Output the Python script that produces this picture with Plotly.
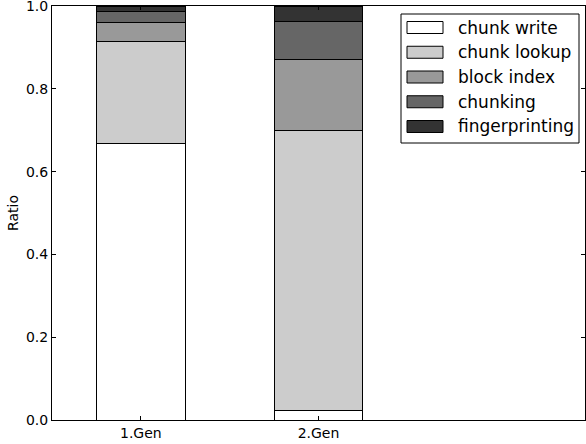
import plotly.graph_objects as go

categories = ["1.Gen", "2.Gen"]
series_names = ["chunk write", "chunk lookup", "block index", "chunking", "fingerprinting"]
chunk_write = [0.669, 0.023]
chunk_lookup = [0.246, 0.676]
block_index = [0.045, 0.172]
chunking = [0.027, 0.091]
fingerprinting = [0.013, 0.038]
y_ticks = [0.0, 0.2, 0.4, 0.6, 0.8, 1.0]

series = [chunk_write, chunk_lookup, block_index, chunking, fingerprinting]
colors = ["#ffffff", "#cccccc", "#999999", "#666666", "#333333"]

W, H = 586, 444
ML, MR, MT, MB = 52, 1, 6, 24
PW, PH = W - ML - MR, H - MT - MB

def px(xpix):
    return (xpix - ML) / PW

def py(ypix):
    return (H - MB - ypix) / PH

fig = go.Figure()
for name, vals, col in zip(series_names, series, colors):
    fig.add_trace(go.Bar(
        x=categories, y=vals, name=name, width=0.5,
        marker=dict(color=col, line=dict(color="black", width=1)),
        showlegend=False,
    ))

font = "DejaVu Sans, Verdana, sans-serif"

# manual legend (matplotlib-style wide patches)
shapes = [dict(type="rect", xref="paper", yref="paper",
               x0=px(401), x1=px(579), y0=py(143), y1=py(14),
               line=dict(color="black", width=1), fillcolor="white", layer="above")]
annotations = []
for i, (name, col) in enumerate(zip(series_names, colors)):
    cy = 27.5 + i * 24.75
    shapes.append(dict(type="rect", xref="paper", yref="paper",
                       x0=px(407), x1=px(443), y0=py(cy + 6), y1=py(cy - 6),
                       line=dict(color="black", width=1), fillcolor=col, layer="above"))
    annotations.append(dict(xref="paper", yref="paper", x=px(456), y=py(cy),
                            text=name, showarrow=False, xanchor="left", yanchor="middle",
                            font=dict(size=17, family=font, color="black")))

fig.update_layout(
    width=W, height=H,
    barmode="stack",
    margin=dict(l=ML, r=MR, t=MT, b=MB),
    plot_bgcolor="white", paper_bgcolor="white",
    font=dict(family=font, size=14, color="black"),
    showlegend=False,
    shapes=shapes,
    annotations=annotations,
    xaxis=dict(
        type="category", range=[-0.5, 2.5],
        showline=True, linecolor="black", linewidth=1, mirror="ticks",
        ticks="inside", ticklen=4, tickcolor="black",
        showgrid=False, zeroline=False, automargin=False,
        tickfont=dict(size=14), ticklabeloverflow="allow",
    ),
    yaxis=dict(
        range=[0, 1.0001], tickvals=y_ticks, tickformat=".1f",
        showline=True, linecolor="black", linewidth=1, mirror="ticks",
        ticks="inside", ticklen=4, tickcolor="black",
        showgrid=False, zeroline=False, automargin=False,
        tickfont=dict(size=14), ticklabeloverflow="allow",
        title=dict(text="Ratio", standoff=4, font=dict(size=14)),
    ),
)
fig.write_html("out.html", config={"displayModeBar": False},
               post_script="document.body.style.margin='0';")
